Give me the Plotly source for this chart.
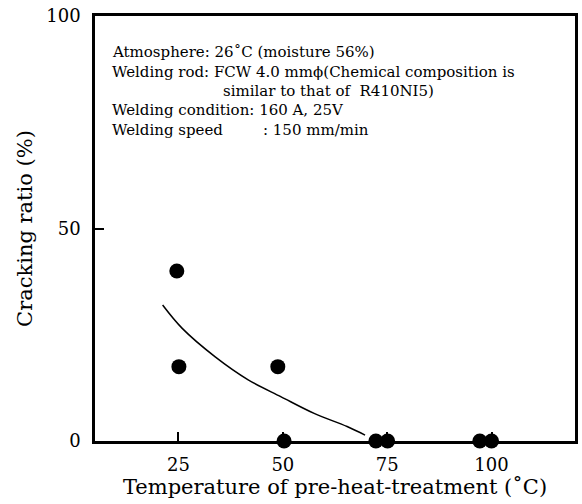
import plotly.graph_objects as go

# Data
temp_pts = [24.6, 25.1, 48.8, 50.3, 72.3, 75.1, 97.2, 100.0]
crack_pts = [40.0, 17.5, 17.5, 0.0, 0.0, 0.0, 0.0, 0.0]

curve_x = [21.2, 25.9, 33.8, 41.7, 49.6, 57.5, 65.4, 69.7]
curve_y = [32.0, 26.5, 19.8, 14.4, 10.4, 6.5, 3.4, 1.4]

x_ticks = [25, 50, 75, 100]
y_ticks = [0, 50, 100]

info_lines = [
    "Atmosphere: 26˚C (moisture 56%)",
    "Welding rod: FCW 4.0 mmϕ(Chemical composition is",
    "similar to that of  R410NI5)",
    "Welding condition: 160 A, 25V",
    "Welding speed",
]
speed_value = ": 150 mm/min"

FONT = "DejaVu Serif, Liberation Serif, serif"

fig = go.Figure()
fig.add_trace(go.Scatter(x=curve_x, y=curve_y, mode="lines",
                         line=dict(color="black", width=1.5, shape="spline"),
                         showlegend=False, hoverinfo="skip"))
fig.add_trace(go.Scatter(x=temp_pts, y=crack_pts, mode="markers",
                         marker=dict(color="black", size=15),
                         showlegend=False, cliponaxis=False))

line_y = [0.915, 0.868, 0.824, 0.779, 0.732]
line_x = [0.031, 0.031, 0.263, 0.031, 0.031]
for t, xx, yy in zip(info_lines, line_x, line_y):
    fig.add_annotation(text=t, xref="paper", yref="paper", x=xx, y=yy,
                       xanchor="left", yanchor="middle", showarrow=False,
                       font=dict(family=FONT, size=15, color="black"))
fig.add_annotation(text=speed_value, xref="paper", yref="paper", x=0.346, y=line_y[4],
                   xanchor="left", yanchor="middle", showarrow=False,
                   font=dict(family=FONT, size=15, color="black"))

fig.update_xaxes(range=[5, 120], tickvals=x_ticks, ticks="inside", ticklen=9,
                 tickwidth=1.5, tickcolor="black", showline=True, linecolor="black",
                 linewidth=2.5, mirror=True, showgrid=False, zeroline=False,
                 ticklabelstandoff=6,
                 tickfont=dict(family=FONT, size=18, color="black"),
                 title=dict(text="Temperature of pre-heat-treatment (˚C)",
                            font=dict(family=FONT, size=21, color="black"), standoff=2))
fig.update_yaxes(range=[0, 100], tickvals=y_ticks, ticks="inside", ticklen=9,
                 tickwidth=1.5, tickcolor="black", showline=True, linecolor="black",
                 linewidth=2.5, mirror=True, showgrid=False, zeroline=False,
                 ticklabelstandoff=8,
                 tickfont=dict(family=FONT, size=18, color="black"),
                 title=dict(text="Cracking ratio (%)",
                            font=dict(family=FONT, size=21, color="black"), standoff=8))

fig.update_layout(width=582, height=504, margin=dict(l=95, r=4, t=16, b=63),
                  plot_bgcolor="white", paper_bgcolor="white")

fig.write_html("out.html")
